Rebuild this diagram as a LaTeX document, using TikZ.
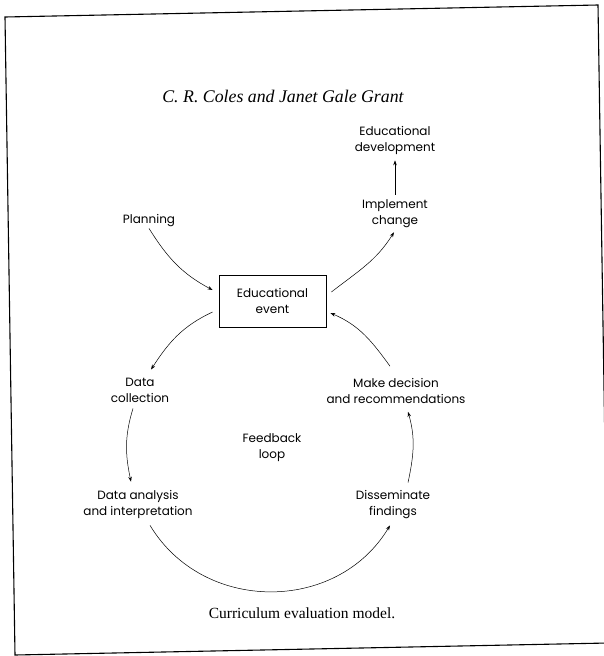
\documentclass[tikz,border=0pt]{standalone}
\usepackage{fontspec}
\newfontfamily\labelfont{Poppins}
\newfontfamily\bookfont{Liberation Serif}
\usetikzlibrary{arrows.meta}
\begin{document}
\begin{tikzpicture}[x = 1pt, y = -1pt, > = {Stealth[length = 5pt, width = 3.5pt]}]
            \useasboundingbox (0,0) rectangle (603,656);
            \draw[line width = 1.1pt] (5,17) -- (598,5) -- (608,643) -- (15,655) -- cycle;
            \node[font = \bookfont\itshape\fontsize{17.8}{20}\selectfont] (authors) at (283,96) {C. R. Coles and Janet Gale Grant};
            \node[font = \bookfont\fontsize{15.5}{17}\selectfont] (caption) at (302,613) {Curriculum evaluation model.};
            \begin{scope}[every node/.append style = {font = \labelfont\fontsize{12}{16}\selectfont, align = center, inner sep = 2pt}]
                \node[draw, line width = 0.8pt, minimum width = 107pt, minimum height = 52pt] (event) at (272.5,301) {Educational\\event};
                \node (develop) at (395,140) {Educational\\development};
                \node (implement) at (395,214) {Implement\\change};
                \node (planning) at (149,221) {Planning};
                \node (collect) at (140,390) {Data\\collection};
                \node (analyse) at (138,504) {Data analysis\\and interpretation};
                \node (feedback) at (272,448) {Feedback\\loop};
                \node (decide) at (396,391) {Make decision\\and recommendations};
                \node (spread) at (393,505) {Disseminate\\findings};
            \end{scope}
            \begin{scope}[line width = 0.5pt]
                \draw[->] ([yshift = 1pt]planning.south) to[out = -58, in = 152] ([xshift = -6pt, yshift = 11pt]event.west);
                \draw[->] ([xshift = -6pt, yshift = -11pt]event.west) to[out = 205, in = 57] ([xshift = 11pt, yshift = 6pt]collect.north);
                \draw[->] ([xshift = -7pt, yshift = -4pt]collect.south) to[out = 253, in = 102] ([xshift = -7pt, yshift = 6pt]analyse.north);
                \draw[->] ([xshift = 12pt, yshift = -5pt]analyse.south) to[out = -59, in = -121, looseness = 1.1] ([xshift = -3pt, yshift = -4pt]spread.south);
                \draw[->] ([xshift = 15pt, yshift = 6pt]spread.north) to[out = 78, in = -74] ([xshift = 12pt, yshift = -6pt]decide.south);
                \draw[->] ([xshift = -6pt, yshift = 10pt]decide.north) to[out = 126, in = -23] ([xshift = 4pt, yshift = -12pt]event.east);
                \draw[->] ([xshift = 5pt, yshift = 9pt]event.east) to[out = 38, in = -122] ([xshift = -1pt, yshift = -2pt]implement.south);
                \draw[->] ([yshift = 3pt]implement.north) -- ([yshift = -4pt]develop.south);
            \end{scope}
\end{tikzpicture}
\end{document}
